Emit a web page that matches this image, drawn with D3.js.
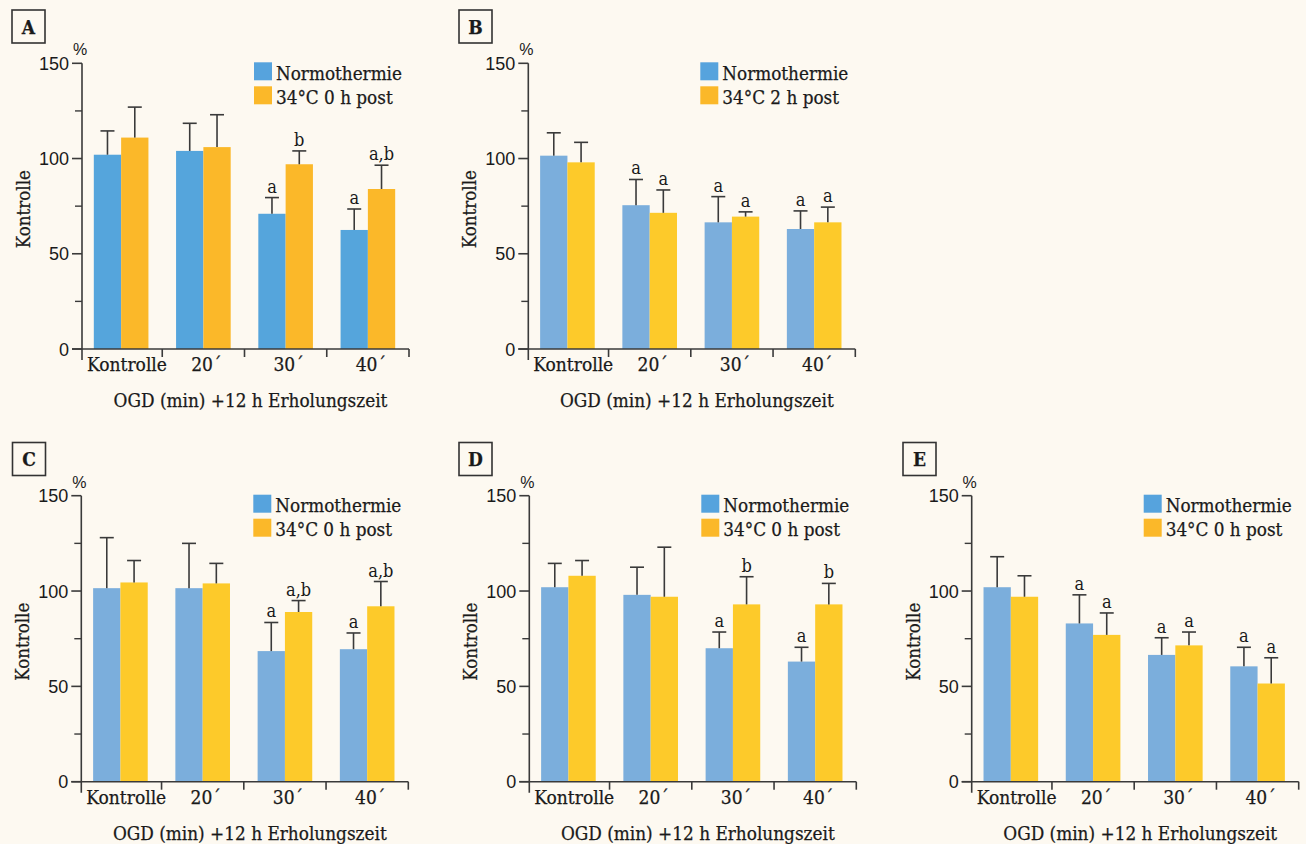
<!DOCTYPE html>
<html>
<head>
<meta charset="utf-8">
<script src="https://cdn.jsdelivr.net/npm/d3@7"></script>
<style>
  html, body { margin: 0; padding: 0; background: #fdf9f1; }
  svg { display: block; }
  .serif { font-family: "DejaVu Serif", serif; font-stretch: condensed; fill: #1a1a1a; stroke: #1a1a1a; stroke-width: 0.25px; }
  .sans { font-family: "Liberation Sans", Arial, sans-serif; fill: #1a1a1a; }
  .sig { font-family: "DejaVu Serif", serif; font-stretch: condensed; fill: #1a1a1a; }
</style>
</head>
<body>
<svg id="chart" width="1306" height="844"></svg>
<script>
// ---------- data ----------
const categories = ["Kontrolle", "20´", "30´", "40´"];
const seriesNames = ["Normothermie", "Hypothermie"];
const yTicksMajor = [0, 50, 100, 150];
const yTicksMinor = [25, 75, 125];

const panelIds = ["A", "B", "C", "D", "E"];
const legendLabels = ["34°C 0 h post", "34°C 2 h post", "34°C 0 h post", "34°C 0 h post", "34°C 0 h post"];

const blueA = [102, 104, 71, 62.5];
const blueErrA = [12.5, 14.5, 8.5, 11];
const orangeA = [111, 106, 97, 84];
const orangeErrA = [16, 17, 7, 12.5];
const sigBlueA = ["", "", "a", "a"];
const sigOrangeA = ["", "", "b", "a,b"];

const blueB = [101.5, 75.5, 66.5, 63];
const blueErrB = [12, 13.5, 13.5, 9.5];
const orangeB = [98, 71.5, 69.5, 66.5];
const orangeErrB = [10.5, 12, 2.5, 8];
const sigBlueB = ["", "a", "a", "a"];
const sigOrangeB = ["", "a", "a", "a"];

const blueC = [101.5, 101.5, 68.5, 69.5];
const blueErrC = [26.5, 23.5, 15, 8.5];
const orangeC = [104.5, 104, 89, 92];
const orangeErrC = [11.5, 10.5, 6, 13];
const sigBlueC = ["", "", "a", "a"];
const sigOrangeC = ["", "", "a,b", "a,b"];

const blueD = [102, 98, 70, 63];
const blueErrD = [12.5, 14.5, 8.5, 7.5];
const orangeD = [108, 97, 93, 93];
const orangeErrD = [8, 26, 14.5, 11];
const sigBlueD = ["", "", "a", "a"];
const sigOrangeD = ["", "", "b", "b"];

const blueE = [102, 83, 66.5, 60.5];
const blueErrE = [16, 15, 9, 10];
const orangeE = [97, 77, 71.5, 51.5];
const orangeErrE = [11, 11.5, 7, 13.5];
const sigBlueE = ["", "a", "a", "a"];
const sigOrangeE = ["", "a", "a", "a"];

const xTitle = "OGD (min) +12 h Erholungszeit";
const yTitle = "Kontrolle";

// ---------- layout ----------
const panels = [
  { id: "A", ax: 82,    yTop: 63.3,  y0: 349,   box: [12, 10],     blue: blueA, be: blueErrA, orange: orangeA, oe: orangeErrA, sb: sigBlueA, so: sigOrangeA, barBlue: "#55a5dc", barOrange: "#fbb829" },
  { id: "B", ax: 528.3, yTop: 63.3,  y0: 349,   box: [459, 10],    blue: blueB, be: blueErrB, orange: orangeB, oe: orangeErrB, sb: sigBlueB, so: sigOrangeB, barBlue: "#7baedc", barOrange: "#fdca2a" },
  { id: "C", ax: 81.3,  yTop: 495.7, y0: 781.7, box: [12.5, 442.5], blue: blueC, be: blueErrC, orange: orangeC, oe: orangeErrC, sb: sigBlueC, so: sigOrangeC, barBlue: "#7baedc", barOrange: "#fdca2a" },
  { id: "D", ax: 529.3, yTop: 495.7, y0: 781.7, box: [459, 442.5], blue: blueD, be: blueErrD, orange: orangeD, oe: orangeErrD, sb: sigBlueD, so: sigOrangeD, barBlue: "#7baedc", barOrange: "#fdca2a" },
  { id: "E", ax: 971.7, yTop: 495.7, y0: 781.7, box: [903, 442.5], blue: blueE, be: blueErrE, orange: orangeE, oe: orangeErrE, sb: sigBlueE, so: sigOrangeE, barBlue: "#7baedc", barOrange: "#fdca2a" }
];
const legendBlue = "#56a3dd", legendOrange = "#fbb829";
const axisColor = "#3a3a3a";

const svg = d3.select("#chart");
svg.append("rect").attr("width", 1306).attr("height", 844).attr("fill", "#fdf9f1");

// fit font size to target widths
function fitSize(text, cls, target, base = 20) {
  const t = svg.append("text").attr("class", cls).style("font-size", base + "px").text(text);
  const w = t.node().getComputedTextLength();
  t.remove();
  return base * target / w;
}
const fsLegend = fitSize("Normothermie", "serif", 126);
const fsCat = fitSize("Kontrolle", "serif", 80);
const fsXTitle = fitSize(xTitle, "serif", 274);
const fsYTitle = fitSize(yTitle, "serif", 78);

panels.forEach((p, pi) => {
  const g = svg.append("g");
  const xEnd = p.ax + 327;
  const y = d3.scaleLinear().domain([0, 150]).range([p.y0, p.yTop]);
  const x0 = d3.scaleBand().domain(categories).range([p.ax - 2, xEnd]).padding(0);
  const x1 = d3.scaleBand().domain(seriesNames).range([0, x0.bandwidth()]).paddingInner(0).paddingOuter(0.506);

  // panel letter box
  g.append("rect").attr("x", p.box[0]).attr("y", p.box[1]).attr("width", 33).attr("height", 33)
    .attr("fill", "none").attr("stroke", "#333").attr("stroke-width", 1.6);
  g.append("text").attr("class", "serif").attr("x", p.box[0] + 16.5).attr("y", p.box[1] + 23.5)
    .attr("text-anchor", "middle").style("font-size", "19px").style("font-weight", "bold").text(p.id);

  // bars
  const rows = categories.map((c, i) => [
    { cat: c, s: seriesNames[0], v: p.blue[i], e: p.be[i], sig: p.sb[i], color: p.barBlue },
    { cat: c, s: seriesNames[1], v: p.orange[i], e: p.oe[i], sig: p.so[i], color: p.barOrange }
  ]).flat();

  g.selectAll("rect.bar").data(rows).join("rect").attr("class", "bar")
    .attr("x", d => x0(d.cat) + x1(d.s))
    .attr("width", x1.bandwidth())
    .attr("y", d => y(d.v))
    .attr("height", d => y(0) - y(d.v))
    .attr("fill", d => d.color);

  // error bars
  const cx = d => x0(d.cat) + x1(d.s) + x1.bandwidth() / 2;
  g.selectAll("line.err").data(rows).join("line").attr("class", "err")
    .attr("x1", cx).attr("x2", cx)
    .attr("y1", d => y(d.v)).attr("y2", d => y(d.v + d.e))
    .attr("stroke", "#3a3a3a").attr("stroke-width", 1.6);
  g.selectAll("line.cap").data(rows).join("line").attr("class", "cap")
    .attr("x1", d => cx(d) - 7).attr("x2", d => cx(d) + 7)
    .attr("y1", d => y(d.v + d.e)).attr("y2", d => y(d.v + d.e))
    .attr("stroke", "#3a3a3a").attr("stroke-width", 1.6);

  // significance letters
  g.selectAll("text.sig").data(rows.filter(d => d.sig)).join("text").attr("class", "sig")
    .attr("x", cx).attr("y", d => y(d.v + d.e) - 5)
    .attr("text-anchor", "middle").style("font-size", "18px").text(d => d.sig);

  // y axis
  g.append("line").attr("x1", p.ax).attr("x2", p.ax).attr("y1", y(150)).attr("y2", p.y0 + 11)
    .attr("stroke", axisColor).attr("stroke-width", 1.6);
  g.selectAll("line.ymaj").data(yTicksMajor).join("line")
    .attr("x1", p.ax - 10).attr("x2", p.ax).attr("y1", d => y(d)).attr("y2", d => y(d))
    .attr("stroke", axisColor).attr("stroke-width", 1.6);
  g.selectAll("line.ymin").data(yTicksMinor).join("line")
    .attr("x1", p.ax - 7).attr("x2", p.ax).attr("y1", d => y(d)).attr("y2", d => y(d))
    .attr("stroke", axisColor).attr("stroke-width", 1.4);
  g.selectAll("text.ytl").data(yTicksMajor).join("text").attr("class", "sans")
    .attr("x", p.ax - 13).attr("y", d => y(d) + 6.5).attr("text-anchor", "end")
    .style("font-size", "18px").text(d => d);
  g.append("text").attr("class", "sans").attr("x", p.ax - 2).attr("y", p.yTop - 8)
    .attr("text-anchor", "middle").style("font-size", "16px").text("%");

  // x axis
  g.append("line").attr("x1", p.ax - 10).attr("x2", xEnd).attr("y1", p.y0).attr("y2", p.y0)
    .attr("stroke", axisColor).attr("stroke-width", 1.6);
  g.selectAll("line.xsep").data(categories).join("line")
    .attr("x1", d => x0(d) + x0.bandwidth()).attr("x2", d => x0(d) + x0.bandwidth())
    .attr("y1", p.y0).attr("y2", p.y0 + 8)
    .attr("stroke", axisColor).attr("stroke-width", 1.6);
  g.selectAll("text.xtl").data(categories).join("text").attr("class", "serif")
    .attr("x", (d, i) => i === 0 ? p.ax + 5 : x0(d) + x0.bandwidth() / 2 + 3)
    .attr("text-anchor", (d, i) => i === 0 ? "start" : "middle")
    .attr("y", p.y0 + 22).style("font-size", fsCat + "px").text(d => d);

  // axis titles
  g.append("text").attr("class", "serif").attr("x", (p.ax + xEnd) / 2 + 5).attr("y", p.y0 + 58)
    .attr("text-anchor", "middle").style("font-size", fsXTitle + "px").text(xTitle);
  g.append("text").attr("class", "serif")
    .attr("transform", `translate(${p.ax - 52},${(p.yTop + p.y0) / 2 + 3}) rotate(-90)`)
    .attr("text-anchor", "middle").style("font-size", fsYTitle + "px").text(yTitle);

  // legend
  const lx = p.ax + 172, ly = p.yTop - 1;
  const leg = [{ label: "Normothermie", color: legendBlue },
               { label: legendLabels[pi], color: legendOrange }];
  leg.forEach((l, i) => {
    g.append("rect").attr("x", lx).attr("y", ly + i * 24).attr("width", 18).attr("height", 18).attr("fill", l.color);
    g.append("text").attr("class", "serif").attr("x", lx + 22).attr("y", ly + i * 24 + 17.5)
      .style("font-size", fsLegend + "px").text(l.label);
  });
});
</script>
</body>
</html>
